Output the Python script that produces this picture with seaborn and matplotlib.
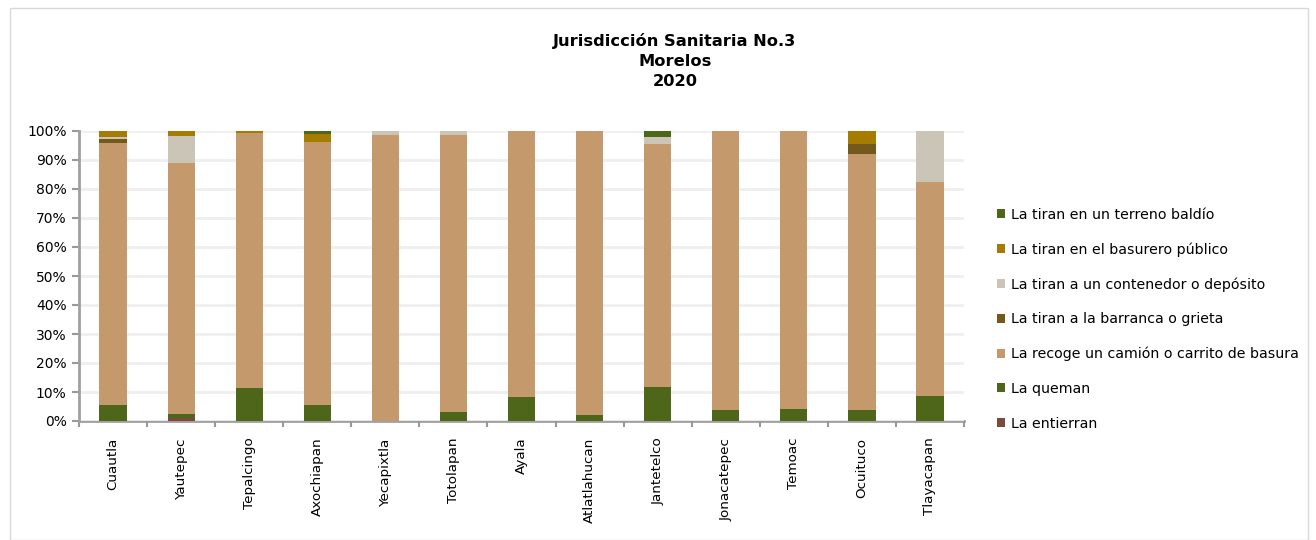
import matplotlib
matplotlib.use("Agg")
import matplotlib.pyplot as plt
from matplotlib.patches import Patch, Rectangle
import seaborn as sns
import numpy as np
import pandas as pd

municipios = ["Cuautla", "Yautepec", "Tepalcingo", "Axochiapan", "Yecapixtla",
              "Totolapan", "Ayala", "Atlatlahucan", "Jantetelco", "Jonacatepec",
              "Temoac", "Ocuituco", "Tlayacapan"]

# percentages, stacked bottom -> top
entierran  = [0.0, 1.1, 0.0, 0.0, 0.0, 0.0, 0.0, 0.0, 0.0, 0.0, 0.0, 0.0, 0.0]
queman     = [5.5, 1.2, 11.4, 5.5, 0.0, 3.1, 8.3, 2.1, 11.7, 3.8, 4.1, 3.8, 8.6]
recoge     = [90.5, 86.7, 87.8, 90.8, 98.6, 95.5, 91.7, 97.9, 83.8, 96.2, 95.9, 88.2, 73.8]
barranca   = [1.2, 0.0, 0.0, 0.0, 0.0, 0.0, 0.0, 0.0, 0.0, 0.0, 0.0, 3.5, 0.0]
contenedor = [0.6, 9.3, 0.0, 0.0, 1.4, 1.4, 0.0, 0.0, 2.3, 0.0, 0.0, 0.0, 17.6]
basurero   = [2.2, 1.7, 0.8, 2.5, 0.0, 0.0, 0.0, 0.0, 0.0, 0.0, 0.0, 4.5, 0.0]
baldio     = [0.0, 0.0, 0.0, 1.2, 0.0, 0.0, 0.0, 0.0, 2.2, 0.0, 0.0, 0.0, 0.0]

series = [
    ("La entierran", entierran, "#7B4A3A"),
    ("La queman", queman, "#4D6619"),
    ("La recoge un camión o carrito de basura", recoge, "#C49A6C"),
    ("La tiran a la barranca o grieta", barranca, "#735A1C"),
    ("La tiran a un contenedor o depósito", contenedor, "#CBC5B8"),
    ("La tiran en el basurero público", basurero, "#A67C00"),
    ("La tiran en un terreno baldío", baldio, "#4E6618"),
]

plt.rcParams['font.family'] = ['DejaVu Sans']

fig = plt.figure(figsize=(13.16, 5.4), dpi=100)
ax = fig.add_axes([79 / 1316, 119 / 540, (964 - 79) / 1316, 290 / 540])

vals = np.array([s[1] for s in series]) / 100.0
cum = np.cumsum(vals, axis=0)

# draw cumulative bars from top layer down so lower layers overwrite
for i in range(len(series) - 1, -1, -1):
    df = pd.DataFrame({"mun": municipios, "v": cum[i]})
    sns.barplot(data=df, x="mun", y="v", color=series[i][2], width=0.4,
                saturation=1, ax=ax, order=municipios, linewidth=0)

ax.set_ylim(0, 1)
ax.set_xlim(-0.5, len(municipios) - 0.5)
ax.set_yticks(np.arange(0, 1.01, 0.1))
ax.set_yticklabels([f"{int(round(t * 100))}%" for t in np.arange(0, 1.01, 0.1)], fontsize=10)
ax.set_xticks(range(len(municipios)))
ax.set_xticklabels(municipios, rotation=90, fontsize=9.7)
ax.tick_params(axis='x', length=0, pad=12)
ax.set_xticks(np.arange(-0.5, len(municipios), 1), minor=True)
ax.tick_params(axis='x', which='minor', length=4, color="#999999", width=1.5)
ax.tick_params(axis='y', length=5, color="#999999", width=1.5, pad=4)
ax.set_xlabel("")
ax.set_ylabel("")
ax.yaxis.grid(True, color="#EFEFEF", linewidth=2)
ax.set_axisbelow(True)
for s in ["top", "right"]:
    ax.spines[s].set_visible(False)
for s in ["left", "bottom"]:
    ax.spines[s].set_color("#A0A0A0")
    ax.spines[s].set_linewidth(2)
ax.spines["bottom"].set_zorder(0.5)

handles = [Patch(facecolor=c, edgecolor="none", label=n) for n, _, c in reversed(series)]
fig.legend(handles=handles, loc="upper left", bbox_to_anchor=(984 / 1316, 1 - 195 / 540),
           frameon=False, fontsize=10.2, labelspacing=1.45, handlelength=0.6,
           handleheight=0.6, handletextpad=0.4)

fig.text(675 / 1316, 1 - 61 / 540, "Jurisdicción Sanitaria No.3\nMorelos\n2020",
         ha="center", va="center", fontsize=11.7, fontweight="bold", linespacing=1.45)

fig.patches.append(Rectangle((10 / 1316, 0), 1298 / 1316, 1 - 8 / 540,
                             transform=fig.transFigure, fill=False,
                             edgecolor="#D9D9D9", linewidth=1))

fig.savefig("out.png", dpi=100)
